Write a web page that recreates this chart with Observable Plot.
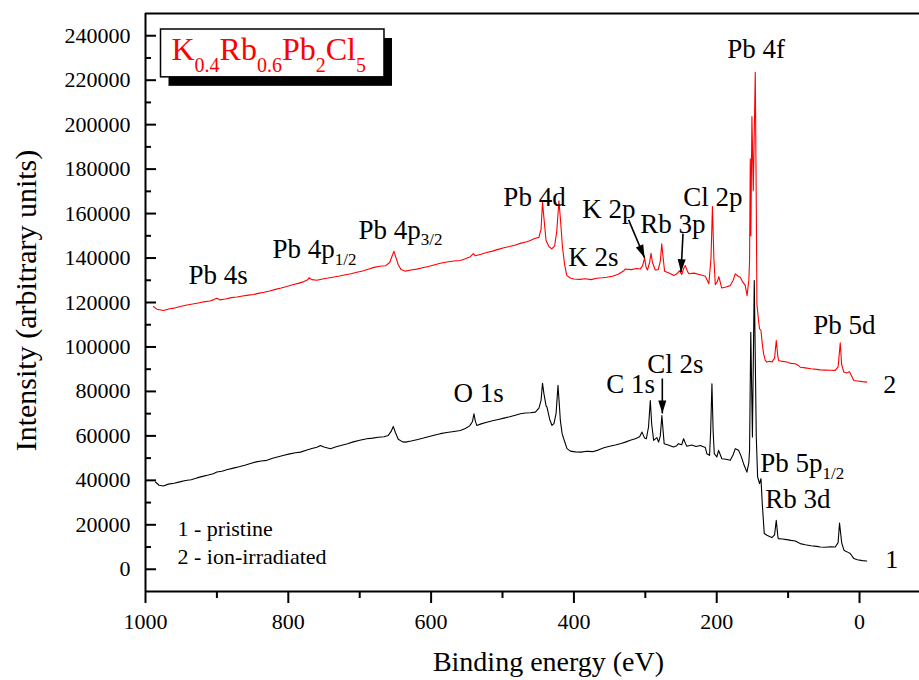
<!DOCTYPE html>
<html>
<head>
<meta charset="utf-8">
<script src="https://cdn.jsdelivr.net/npm/d3@7"></script>
<script src="https://cdn.jsdelivr.net/npm/@observablehq/plot@0.6"></script>
<style>
  body { margin: 0; background: #fff; }
  svg text { font-family: "Liberation Serif", "Times New Roman", serif; }
</style>
</head>
<body>
<div id="chart"></div>
<script>
// XPS survey spectra of K0.4Rb0.6Pb2Cl5: binding energy (eV), intensity (arb. units)
const pristine = [
  [986,39250],[981,37800],[975,37450],[968,38300],[960,38700],[952,39300],[944,39900],[936,40300],
  [928,41100],[920,41800],[912,42400],[905,43000],[900,43750],[893,44100],[885,44900],[877,45500],
  [869,46100],[861,46800],[853,47600],[845,48300],[838,48700],[830,49000],[822,49900],[814,50600],
  [806,51300],[798,51900],[790,52400],[783,52700],[775,53500],[767,54300],[760,54900],[755,55700],
  [750,55000],[741,54250],[733,55100],[725,55800],[717,56500],[709,57300],[700,58000],[690,58700],
  [682,59000],[674,59400],[666,59600],[660,60200],[656,62000],[653,64250],[650,61500],[646,58500],
  [640,57300],[636,57200],[628,57700],[620,58300],[612,58900],[604,59600],[596,60300],[587,61000],
  [578,61500],[568,62000],[559,62450],[552,63300],[546,64500],[542,66500],[540,69950],[538,66500],
  [536,64700],[530,65400],[522,66100],[514,66800],[506,67400],[498,68000],[490,68600],[482,69300],
  [475,69950],[468,70300],[461,70400],[454,70700],[449,72500],[446,76000],[444,83700],[442,79000],
  [439,73500],[437.7,72950],[434,67500],[430.7,64700],[428,65500],[425,70000],[422.3,82700],[420,72000],
  [419,66950],[416.5,61000],[414.3,58700],[409.7,54250],[405,53150],[398,52800],[390,52700],[382,53100],
  [374,52900],[366,53600],[358,54700],[350,55300],[342,55900],[334,56600],[327,57300],[321,58000],
  [314,58700],[308,59600],[304.6,61700],[301,59000],[298.6,58700],[295.5,64000],[293,75950],[291,65000],
  [288.3,58000],[283.8,59200],[281.4,57200],[279,60000],[276.8,69200],[275,62000],[273.6,56500],[267,55800],
  [260.6,55000],[256,55600],[253.6,56500],[249,56000],[246.4,58700],[243.5,56400],[241.7,55300],[235,55900],
  [229,55200],[223,55700],[216,54800],[213.8,52000],[210,51250],[208.5,62000],[206.7,83450],[205,62000],
  [203.4,52000],[199.8,50500],[197.4,53500],[195,51500],[192.8,49750],[187,49500],[181,49000],[177,51500],
  [174,54250],[169.4,53500],[166,51000],[162.4,47500],[157.7,43700],[155,48000],[154,53500],[152.3,106650],
  [150,59450],[147.4,129900],[144.6,59450],[142.7,41500],[140,38500],[138,40750],[136.2,29500],[133.4,16050],
  [129.7,15300],[126,14700],[122.7,14250],[119,15500],[116.6,22000],[114.5,15000],[113.8,13800],[108,13600],
  [101.8,13350],[96,13000],[90,12700],[86,12000],[83,11550],[76,11000],[68,10600],[60,10300],
  [55,10000],[48,9900],[41,10100],[34,10000],[30,12000],[28,20800],[25,12000],[22,8700],
  [20,8250],[16,7600],[13,7050],[11,6200],[8,4800],[3,4300],[-4,3900],[-10,3750]
];

const irradiated = [
  [989,118200],[984,117000],[975,116400],[966,117200],[958,117600],[950,118300],[942,118900],[934,119300],
  [926,119800],[918,120300],[910,120700],[904,121300],[900,121900],[896,121200],[888,121600],[880,122200],
  [872,122500],[864,122900],[856,123300],[849,123600],[842,124100],[834,124600],[826,125200],[818,125900],
  [810,126500],[802,127200],[794,128000],[786,128600],[778,129400],[773,130200],[771,131100],[767,130300],
  [760,130000],[752,130600],[744,131000],[736,131500],[728,131900],[720,132500],[712,132900],[704,133600],
  [696,134200],[688,135000],[680,135800],[672,136300],[664,136500],[658,138000],[654,141500],[652,143000],
  [650,141000],[646,137000],[642,134800],[636,134100],[628,134600],[620,135000],[612,135600],[604,136200],
  [596,136900],[587,137650],[578,138200],[568,138700],[559,138900],[552,139700],[545,140600],[541,142000],
  [538,141000],[530,141700],[522,142500],[514,143100],[506,143900],[498,144600],[490,145200],[482,145900],
  [474,146700],[466,147300],[461,147850],[455,148800],[449,149300],[446,153000],[444,165100],[442,158000],
  [439,147850],[435,145200],[431,144100],[427,145500],[424,152000],[421,165800],[419,158000],[416,144850],
  [413,137000],[410,132100],[405,131000],[400,130600],[392,130400],[384,130700],[376,130300],[368,130900],
  [360,131100],[354,131350],[346,131800],[338,132700],[330,134300],[328,135100],[320,134800],[312,135300],
  [307,135100],[304,136500],[301,140000],[299,136000],[297,134600],[294,138000],[292,142150],[290,138000],
  [286,134600],[282,134800],[279,138500],[277,146350],[275,140000],[273,134100],[266,133200],[260,132100],
  [256,132800],[252,134300],[249,132600],[246,135500],[244,136600],[241,134000],[239,132900],[232,133200],
  [223,132450],[216,131800],[211,128400],[208,140000],[206,163200],[204,140000],[202,128000],[199,129500],
  [197,131650],[195,129000],[193,126500],[187,127000],[181,127600],[177,130000],[174,132900],[170,131800],
  [167,131350],[164,129500],[160,127600],[157.5,123100],[155,130000],[154,138900],[153,184600],[152.2,150000],
  [150.7,203600],[148.8,170300],[146,223500],[144.5,160000],[143.7,119400],[141.5,112000],[140,108200],[138,107400],
  [136.2,101400],[134.4,97000],[132,94000],[129.7,93200],[126,93600],[122.7,93200],[119,95000],[116.6,102900],
  [114.5,96000],[113.4,93900],[108,93500],[101.8,93200],[96,92600],[90,92450],[86,91800],[83,90900],
  [76,90600],[68,90200],[60,89900],[55,89700],[48,89600],[41,89500],[34,89450],[30,91000],
  [27,101900],[25,92000],[22,88700],[18,88300],[14,88900],[12,87500],[8,84950],[3,84700],
  [-4,84400],[-10,84200]
];

// Peak assignments ("_" marks a subscript), anchored at the label's left baseline
const peakLabels = [
  {text: "Pb 4s", e: 939.8, i: 128500},
  {text: "Pb 4p_1/2", e: 822.2, i: 139800},
  {text: "Pb 4p_3/2", e: 701.8, i: 148750},
  {text: "Pb 4d", e: 498.8, i: 163600},
  {text: "K 2p", e: 388.2, i: 158200},
  {text: "Rb 3p", e: 307, i: 151450},
  {text: "K 2s", e: 407.8, i: 136600},
  {text: "Cl 2p", e: 246.8, i: 163600},
  {text: "Pb 4f", e: 185.2, i: 230100},
  {text: "Pb 5d", e: 64.8, i: 106050},
  {text: "O 1s", e: 568.8, i: 75050},
  {text: "C 1s", e: 354.6, i: 79100},
  {text: "Cl 2s", e: 297.2, i: 88500},
  {text: "Pb 5p_1/2", e: 139, i: 43600},
  {text: "Rb 3d", e: 132, i: 27400}
];

// Curve numbers at the low-energy end
const curveNumbers = [
  {text: "1", e: -36, i: 450},
  {text: "2", e: -33.2, i: 79100}
];

const legendLines = [
  {text: "1 - pristine", e: 955.2, i: 14800},
  {text: "2 - ion-irradiated", e: 955.2, i: 2250}
];

// Pointer arrows from labels to small peaks
const pointers = [
  {e1: 323.4, i1: 157150, e2: 301.0, i2: 140100},  // K 2p
  {e1: 247.2, i1: 151000, e2: 250.0, i2: 133600},  // Rb 3p
  {e1: 276.2, i1: 85800, e2: 276.2, i2: 70100}     // Cl 2s
];

const xMajor = [1000, 800, 600, 400, 200, 0];
const xMinor = [900, 700, 500, 300, 100];
const yMajor = d3.range(0, 240001, 20000);
const yMinor = d3.range(10000, 240000, 20000);

const formula = [["K", ""], ["0.4", "sub"], ["Rb", ""], ["0.6", "sub"], ["Pb", ""], ["2", "sub"], ["Cl", ""], ["5", "sub"]];

const W = 919, H = 680;
const margin = {left: 145, right: 0, top: 13, bottom: 89};
const xDomain = [1000, -84];
const yDomain = [-10000, 250000];
const serif = "Liberation Serif, Times New Roman, serif";

// Scales used to orient the arrowheads along each pointer
const sx = Plot.scale({x: {domain: xDomain, range: [margin.left, W - margin.right]}});
const sy = Plot.scale({y: {domain: yDomain, range: [H - margin.bottom, margin.top]}});
const heads = pointers.map(p => {
  const dx = sx.apply(p.e2) - sx.apply(p.e1);
  const dy = sy.apply(p.i2) - sy.apply(p.i1);
  const L = Math.hypot(dx, dy);
  return {e: p.e2, i: p.i2, angle: Math.atan2(-dx / L, dy / L) * 180 / Math.PI};
});

// Narrow filled arrowhead, tip at the origin, pointing along +y
const arrowHead = {
  draw(context) {
    context.moveTo(0, 0);
    context.lineTo(-4, -13);
    context.lineTo(4, -13);
    context.closePath();
  }
};

const pairs = arr => arr.map(([e, i]) => ({e, i}));

const plot = Plot.plot({
  width: W,
  height: H,
  marginLeft: margin.left,
  marginRight: margin.right,
  marginTop: margin.top,
  marginBottom: margin.bottom,
  style: {fontFamily: serif, fontSize: "22px", background: "white", color: "black"},
  x: {domain: xDomain, range: [margin.left, W - margin.right]},
  y: {domain: yDomain, range: [H - margin.bottom, margin.top]},
  marks: [
    // frame
    Plot.ruleX([1000], {stroke: "black", strokeWidth: 2}),
    Plot.ruleY([-10000, 250000], {stroke: "black", strokeWidth: 2}),
    // x axis: outward ticks
    Plot.axisX({ticks: xMajor, tickSize: 12, strokeWidth: 2, text: null, label: null}),
    Plot.axisX({ticks: xMinor, tickSize: 7, strokeWidth: 2, text: null, label: null}),
    Plot.axisX({ticks: xMajor, tickSize: 0, tickPadding: 22, fontSize: 22, fontFamily: serif, tickFormat: d => String(d), label: null}),
    // y axis: inward ticks
    Plot.axisY({ticks: yMajor, tickSize: 11, dx: 11, strokeWidth: 2, text: null, label: null}),
    Plot.axisY({ticks: yMinor, tickSize: 6, dx: 6, strokeWidth: 2, text: null, label: null}),
    Plot.axisY({ticks: yMajor, tickSize: 0, tickPadding: 15, fontSize: 22, fontFamily: serif, tickFormat: d => String(d), label: null}),
    // axis titles
    Plot.text(["Binding energy (eV)"], {frameAnchor: "bottom", textAnchor: "middle", dx: 16, dy: 79, lineAnchor: "bottom", fontSize: 28, fontFamily: serif}),
    Plot.text(["Intensity (arbitrary units)"], {frameAnchor: "left", textAnchor: "middle", rotate: -90, dx: -110, dy: -2, lineAnchor: "bottom", fontSize: 30, fontFamily: serif}),
    // spectra
    Plot.line(pairs(pristine), {x: "e", y: "i", stroke: "black", strokeWidth: 1.1}),
    Plot.line(pairs(irradiated), {x: "e", y: "i", stroke: "#ff0000", strokeWidth: 1.1}),
    // pointers
    Plot.link(pointers, {x1: "e1", y1: "i1", x2: "e2", y2: "i2", stroke: "black", strokeWidth: 1.6}),
    Plot.dot(heads, {x: "e", y: "i", rotate: "angle", symbol: arrowHead, fill: "black", stroke: "none"}),
    // labels
    Plot.text(peakLabels, {x: "e", y: "i", text: "text", textAnchor: "start", lineAnchor: "bottom", fontSize: 27, fontFamily: serif}),
    Plot.text(curveNumbers, {x: "e", y: "i", text: "text", textAnchor: "start", lineAnchor: "bottom", fontSize: 26, fontFamily: serif}),
    Plot.text(legendLines, {x: "e", y: "i", text: "text", textAnchor: "start", lineAnchor: "bottom", fontSize: 22, fontFamily: serif})
  ]
});

// Subscripts: split "main_sub" labels into tspans
d3.select(plot).selectAll("text").each(function() {
  const t = this.textContent;
  if (!t.includes("_")) return;
  const [main, sub] = t.split("_");
  const el = d3.select(this).text(null);
  el.append("tspan").text(main);
  el.append("tspan").attr("dy", "0.4em").attr("font-size", "17px").text(sub);
});

document.getElementById("chart").appendChild(plot);

// Compound name in a shadowed box, top-left inside the frame
const svg = d3.select(plot);
const g = svg.append("g");
const shadow = g.append("rect").attr("fill", "black");
const box = g.append("rect").attr("fill", "white").attr("stroke", "black").attr("stroke-width", 1.5);
const name = g.append("text")
  .attr("x", margin.left + 26.5)
  .attr("y", margin.top + 47)
  .attr("text-anchor", "start")
  .attr("fill", "#ff0000")
  .attr("font-family", serif)
  .attr("font-size", 32);
formula.forEach(([s, kind], k) => {
  const ts = name.append("tspan").text(s);
  if (kind === "sub") ts.attr("font-size", 20).attr("dy", "0.58em");
  else if (k > 0) ts.attr("dy", "-0.36em");
});
const bb = name.node().getBBox();
const bx = bb.x - 11, by = bb.y - 2, bw = bb.width + 29, bh = bb.height + 3;
box.attr("x", bx).attr("y", by).attr("width", bw).attr("height", bh);
shadow.attr("x", bx + 8).attr("y", by + 9).attr("width", bw).attr("height", bh);
</script>
</body>
</html>
